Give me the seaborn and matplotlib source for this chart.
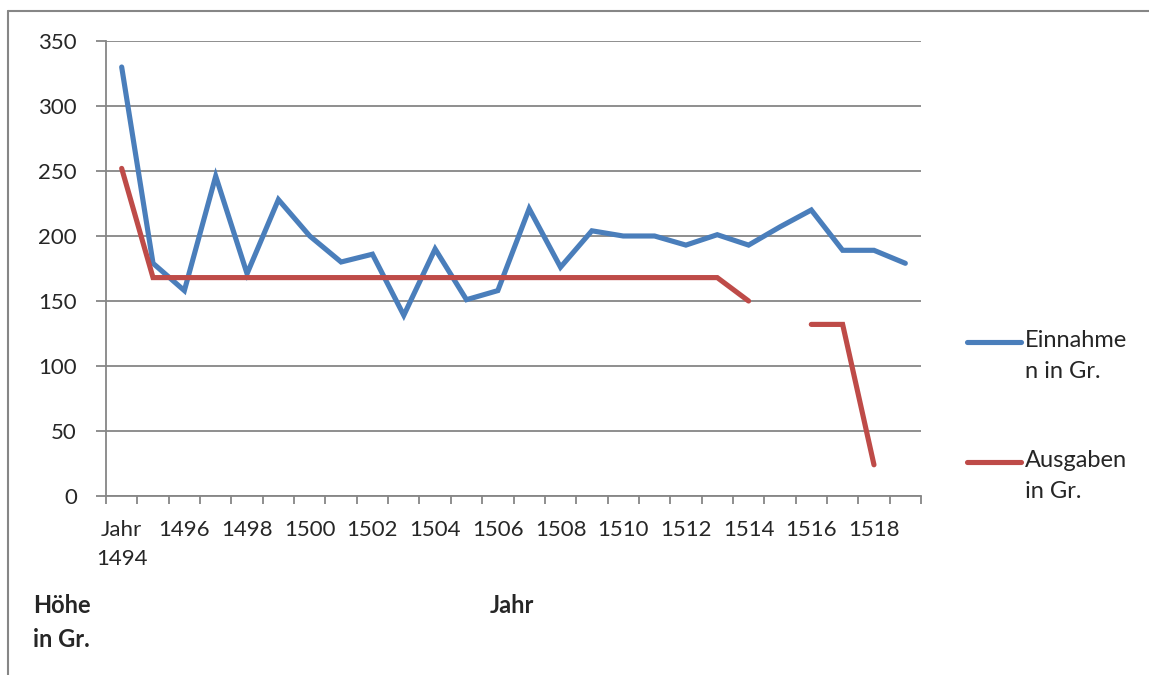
import numpy as np
import pandas as pd
import matplotlib
matplotlib.use("Agg")
import matplotlib.pyplot as plt
from matplotlib.lines import Line2D
import seaborn as sns

years = list(range(1494, 1520))
einnahmen = [330, 179, 158, 246, 171, 228, 200, 180, 186, 139, 190, 151, 158,
             221, 176, 204, 200, 200, 193, 201, 193, 207, 220, 189, 189, 179]
ausgaben = [252, 168, 168, 168, 168, 168, 168, 168, 168, 168, 168, 168, 168,
            168, 168, 168, 168, 168, 168, 168, 150, np.nan, 132, 132, 24, np.nan]
tick_labels = ["Jahr\n1494", "1496", "1498", "1500", "1502", "1504", "1506",
               "1508", "1510", "1512", "1514", "1516", "1518"]
series_names = ["Einnahme\nn in Gr.", "Ausgaben\nin Gr."]
y_ticks = [0, 50, 100, 150, 200, 250, 300, 350]

BLUE = "#4A7EBB"
RED = "#BE4B48"
GRAY = "#868686"

sns.set_theme(style="white")
plt.rcParams["font.family"] = ["Lato", "DejaVu Sans"]
FS = 16
LS = 1.6

pos = np.arange(len(years))
df_e = pd.DataFrame({"pos": pos, "val": einnahmen})
a = np.array(ausgaben, dtype=float)
seg = np.cumsum(np.isnan(a))
df_a = pd.DataFrame({"pos": pos, "val": a, "seg": seg}).dropna()

fig = plt.figure(figsize=(11.49, 6.75), dpi=100)
W, H = 1149, 675
ax = fig.add_axes([106 / W, 1 - 496 / H, (921 - 106) / W, (496 - 41) / H])

LW = 3.7
sns.lineplot(data=df_e, x="pos", y="val", color=BLUE, linewidth=LW,
             estimator=None, ax=ax, solid_capstyle="round", solid_joinstyle="miter")
sns.lineplot(data=df_a, x="pos", y="val", units="seg", color=RED, linewidth=LW,
             estimator=None, ax=ax, solid_capstyle="round", solid_joinstyle="miter")

ax.set_xlim(-0.5, len(years) - 0.5)
ax.set_ylim(0, 350)
ax.set_yticks(y_ticks)
ax.set_yticklabels([str(v) for v in y_ticks], fontsize=FS)
ax.yaxis.grid(True, color=GRAY, linewidth=1.3)
ax.set_axisbelow(True)
ax.tick_params(axis="y", length=7, width=1.3, color=GRAY, pad=14, left=True)

ax.set_xticks(np.arange(-0.5, len(years), 1.0))
ax.set_xticklabels([])
ax.set_xticks(pos[::2], minor=True)
ax.set_xticklabels(tick_labels, minor=True, fontsize=FS, linespacing=LS)
ax.tick_params(axis="x", which="major", length=6, width=1.3, color=GRAY, bottom=True, direction="out")
ax.tick_params(axis="x", which="minor", length=0, pad=17)
ax.set_xlabel("")
ax.set_ylabel("")

for s in ["top", "right"]:
    ax.spines[s].set_visible(False)
for s in ["left", "bottom"]:
    ax.spines[s].set_color(GRAY)
    ax.spines[s].set_linewidth(1.3)

# outer frame lines (top and left)
fig.add_artist(Line2D([8 / W, 1.0], [1 - 11 / H, 1 - 11 / H], color=GRAY, linewidth=1.5))
fig.add_artist(Line2D([8 / W, 8 / W], [1 - 11 / H, 0], color=GRAY, linewidth=1.5))

# legend
for name, color, yc in [(series_names[0], BLUE, 342), (series_names[1], RED, 462)]:
    fig.add_artist(Line2D([967 / W, 1021 / W], [1 - yc / H, 1 - yc / H], color=color,
                          linewidth=LW, solid_capstyle="round"))
    fig.text(1025 / W, 1 - (yc - 12) / H, name, fontsize=FS + 1, ha="left", va="top",
             linespacing=LS)

# axis titles
fig.text(33 / W, 1 - 594 / H, "Höhe\nin Gr.", fontsize=FS + 1, fontweight="bold",
         ha="left", va="top", linespacing=LS)
fig.text(512 / W, 1 - 594 / H, "Jahr", fontsize=FS + 1, fontweight="bold",
         ha="center", va="top")

fig.savefig("out.png", dpi=100)
